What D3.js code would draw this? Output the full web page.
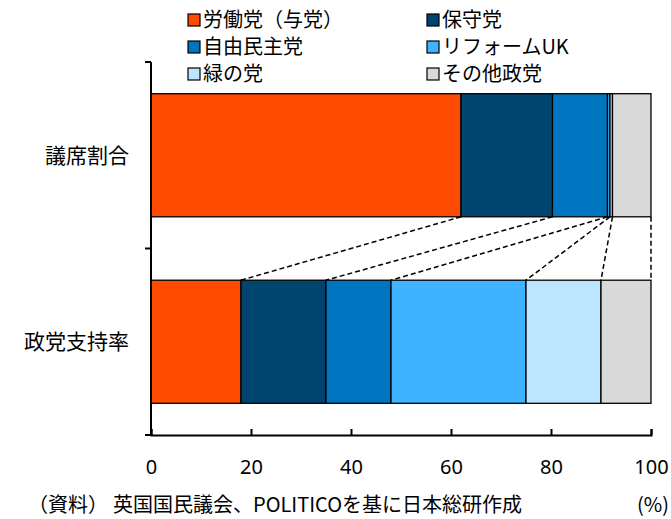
<!DOCTYPE html>
<meta charset="utf-8">
<script src="https://d3js.org/d3.v7.min.js"></script>
<style>
  body { margin: 0; background: #fff; }
  text { font-family: "Noto Sans CJK JP", "Noto Sans", sans-serif; fill: #000; }
</style>
<div id="chart"></div>
<script>

// categories (rows) and parties (stack order)
const categories = ["議席割合", "政党支持率"];
const parties = ["労働党（与党）", "保守党", "自由民主党", "リフォームUK", "緑の党", "その他政党"];
const colors = ["#FF4B00", "#00456F", "#0075BF", "#3FB3FF", "#BEE5FF", "#D9D9D9"];

// values in %
const seatShare = [62.0, 18.3, 11.0, 0.5, 0.5, 7.7];
const supportRate = [18, 17, 13, 27, 15, 10];

const xTicks = [0, 20, 40, 60, 80, 100];

const width = 671, height = 519;

const svg = d3.select("#chart")
  .append("svg")
    .attr("width", width)
    .attr("height", height);

const x = d3.scaleLinear().domain([0, 100]).range([151, 651]);
const y = d3.scaleBand()
  .domain(categories)
  .range([62, 435])
  .paddingInner(0.34)
  .paddingOuter(0.17);

// build stacked rows
const rows = [seatShare, supportRate].map((vals, r) => {
  let acc = 0;
  return vals.map((v, i) => {
    const seg = {cat: categories[r], party: parties[i], i: i, x0: acc, x1: acc + v};
    acc += v;
    return seg;
  });
});

// dashed connector lines between the two bars
const seatRow = rows[0], supportRow = rows[1];
svg.append("g")
  .selectAll("line")
  .data(d3.range(parties.length))
  .join("line")
    .attr("x1", i => x(seatRow[i].x1))
    .attr("y1", y(categories[0]) + y.bandwidth())
    .attr("x2", i => x(supportRow[i].x1))
    .attr("y2", y(categories[1]))
    .attr("stroke", "#000")
    .attr("stroke-width", 1.5)
    .attr("stroke-dasharray", "5,3");

// bars
svg.append("g")
  .selectAll("rect")
  .data(rows.flat())
  .join("rect")
    .attr("x", d => x(d.x0))
    .attr("y", d => y(d.cat))
    .attr("width", d => x(d.x1) - x(d.x0))
    .attr("height", y.bandwidth())
    .attr("fill", d => colors[d.i])
    .attr("stroke", "#000")
    .attr("stroke-width", 1.3);

// x axis, ticks pointing up
const xAxis = svg.append("g")
  .attr("transform", `translate(0,435)`)
  .call(d3.axisBottom(x).tickValues(xTicks).tickSizeInner(-6).tickSizeOuter(-6).tickPadding(25));
xAxis.select(".domain").attr("stroke-width", 2);
xAxis.selectAll(".tick line").attr("stroke-width", 2);
xAxis.selectAll("text")
  .style("font-size", "20px")
  .style("font-family", "'Noto Sans', sans-serif");

// y axis: line with ticks at band boundaries
const [y0, y1] = y.range();
const yTicks = [y0, y0 + y.step(), y1];
svg.append("line")
  .attr("x1", x(0)).attr("x2", x(0))
  .attr("y1", y0).attr("y2", y1)
  .attr("stroke", "#000").attr("stroke-width", 2);
svg.append("g")
  .selectAll("line")
  .data(yTicks)
  .join("line")
    .attr("x1", x(0) - 6).attr("x2", x(0))
    .attr("y1", d => d).attr("y2", d => d)
    .attr("stroke", "#000").attr("stroke-width", 2);

svg.append("g")
  .selectAll("text")
  .data(categories)
  .join("text")
    .attr("x", 129)
    .attr("y", d => y(d) + y.bandwidth() / 2)
    .attr("dy", "0.35em")
    .attr("text-anchor", "end")
    .style("font-size", "21px")
    .text(d => d);

// legend
const legend = svg.append("g");
const item = legend.selectAll("g")
  .data(parties)
  .join("g")
    .attr("transform", (d, i) => `translate(${i % 2 === 0 ? 188 : 427}, ${20 + Math.floor(i / 2) * 27})`);
item.append("rect")
  .attr("x", 0).attr("y", -6)
  .attr("width", 12).attr("height", 12)
  .attr("fill", (d, i) => colors[i])
  .attr("stroke", "#000")
  .attr("stroke-width", 1.2);
item.append("text")
  .attr("x", 15)
  .attr("dy", "0.36em")
  .style("font-size", "20px")
  .text(d => d);

// notes
const note = svg.append("text")
  .attr("x", 28).attr("y", 512)
  .style("font-size", "20px");
note.append("tspan").text("（資料）");
note.append("tspan").attr("dx", 5).text("英国国民議会、POLITICOを基に日本総研作成");
svg.append("text")
  .attr("x", 637).attr("y", 512)
  .style("font-size", "20px")
  .text("(%)");

</script>
